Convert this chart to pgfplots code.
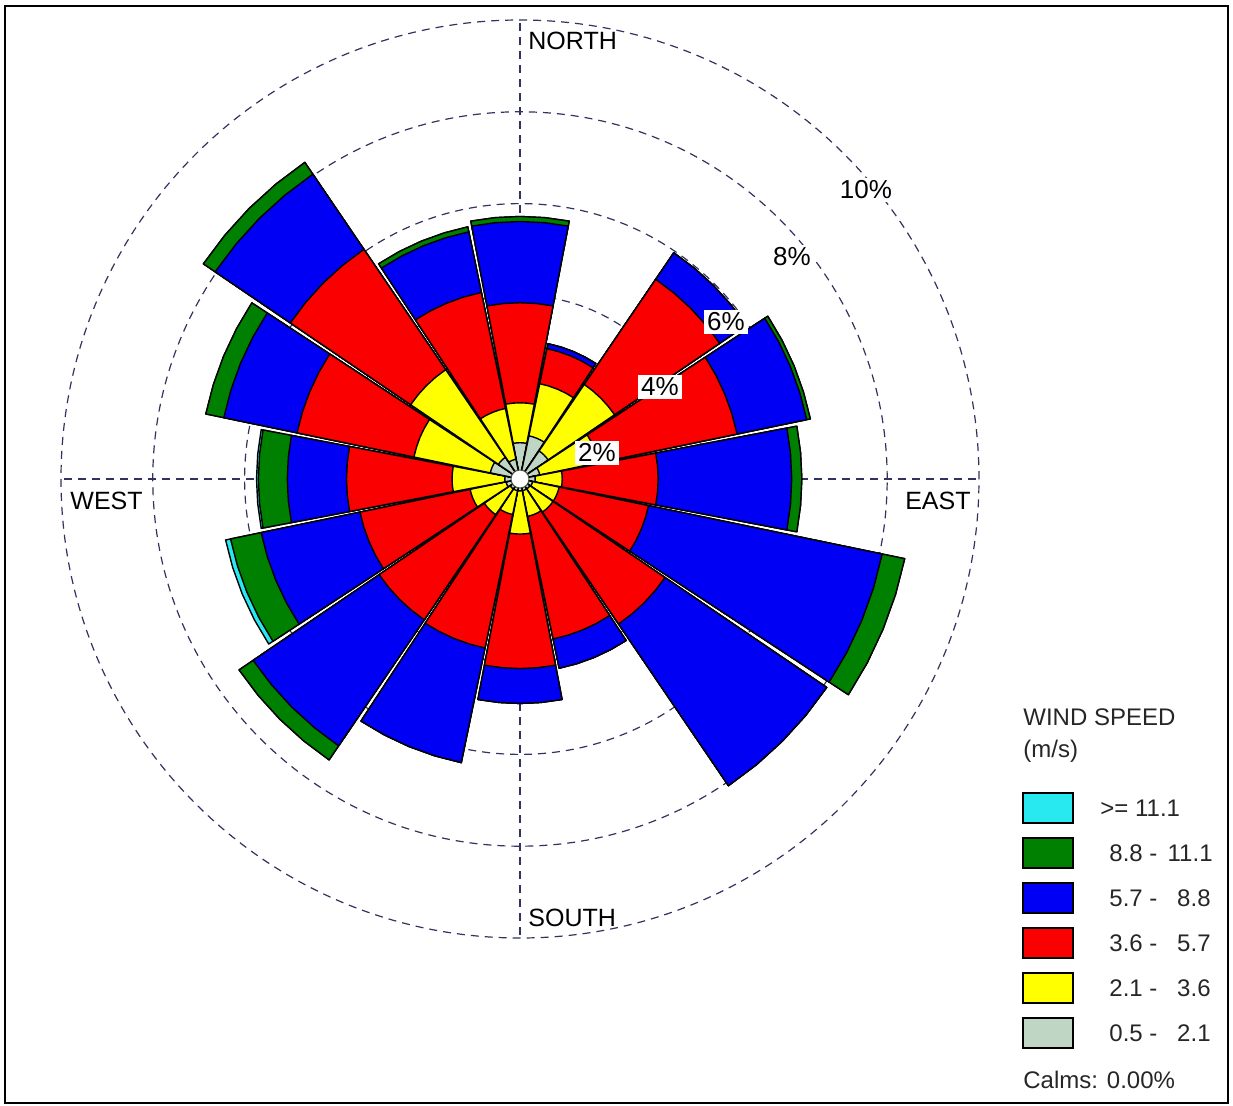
\documentclass[border=0pt]{standalone}
\usepackage{fontspec}
\setmainfont{Liberation Sans}
\usepackage{pgfplots}
\pgfplotsset{compat=1.18}
\usepackage{pgfplotstable}
\usepgfplotslibrary{polar}

\definecolor{wcyan}{RGB}{40,232,240}
\definecolor{wgreen}{RGB}{0,128,0}
\definecolor{wblue}{RGB}{0,0,245}
\definecolor{wred}{RGB}{250,0,0}
\definecolor{wyellow}{RGB}{255,255,0}
\definecolor{wgray}{RGB}{192,214,196}
\definecolor{gridc}{RGB}{50,50,95}

% cumulative radius (%) of each speed class, by compass direction (deg)
\pgfplotstableread{
dir   gray yellow red  blue green cyan
0     0.79 1.66   3.84 5.61 5.72  5.72
22.5  0.96 2.12   2.90 3.01 3.01  3.01
45    0.74 2.49   5.26 5.96 5.96  5.96
67.5  0.44 1.75   4.83 6.38 6.46  6.46
90    0.33 0.92   3.01 5.92 6.14  6.14
112.5 0.28 0.87   2.86 8.06 8.56  8.56
135   0.26 0.87   3.82 8.08 8.08  8.08
157.5 0.26 0.83   3.56 4.21 4.21  4.21
180   0.26 1.20   4.13 4.89 4.89  4.89
202.5 0.26 0.79   3.76 6.31 6.31  6.31
225   0.26 0.94   3.71 7.03 7.40  7.40
247.5 0.31 1.11   3.56 5.76 6.44  6.55
270   0.33 1.48   3.78 5.07 5.70  5.74
292.5 0.66 2.36   4.96 6.59 6.99  6.99
315   0.57 2.88   6.05 8.03 8.34  8.34
337.5 0.44 1.57   4.15 5.50 5.61  5.61
}\windtab

\newcommand\fs[1]{\fontsize{#1}{#1}\selectfont}
\tikzset{px/.style={x=0.5pt,y=-0.5pt}}

\begin{document}
\begin{tikzpicture}
\path[use as bounding box] (0pt,0pt) rectangle (616.5pt,-553pt);
\begin{polaraxis}[
  at={(260pt,-239.5pt)}, anchor=origin,
  width=459pt, height=459pt, scale only axis,
  xmin=0, xmax=360, ymin=0, ymax=10,
  xtick={0,90,180,270}, ytick={2,4,6,8},
  xticklabels={}, yticklabels={},
  major tick length=0pt,
  grid=major,
  grid style={gridc, dash pattern=on 4pt off 3pt, line width=0.6pt},
  x axis line style={gridc, dash pattern=on 4pt off 3pt, line width=0.6pt},
  y axis line style={draw=none},
]
\pgfplotsforeachungrouped \i in {0,...,15}{%
  \pgfplotstablegetelem{\i}{dir}\of\windtab
  \pgfmathsetmacro\ang{90-\pgfplotsretval}%
  \pgfmathsetmacro\aA{\ang-10.8}\pgfmathsetmacro\aB{\ang-5.4}%
  \pgfmathsetmacro\aC{\ang+5.4}\pgfmathsetmacro\aD{\ang+10.8}%
  \pgfplotsforeachungrouped \cls in {cyan,green,blue,red,yellow,gray}{%
    \pgfplotstablegetelem{\i}{\cls}\of\windtab
    \let\rr\pgfplotsretval
    \edef\tmp{\noexpand\addplot[fill=w\cls, draw=black, line width=0.7pt, line join=round]
      coordinates {(0,0) (\aA,\rr) (\aB,\rr) (\ang,\rr) (\aC,\rr) (\aD,\rr)} -- cycle;}%
    \tmp
  }%
}
\draw[black!70, fill=white, line width=0.5pt] (axis cs:0,0) circle[radius=4.5pt];
\end{polaraxis}

\begin{scope}[px]
% compass labels
\begin{scope}[every node/.style={inner sep=0pt, font=\fs{12.5}}]
\node[anchor=west] at (528,41) {NORTH};
\node[anchor=west] at (528,918) {SOUTH};
\node[anchor=west] at (70,501) {WEST};
\node[anchor=east] at (971,501) {EAST};
\end{scope}

% ring labels
\begin{scope}[every node/.style={fill=white, inner sep=1.5pt, font=\fs{13}}]
\node at (597,453) {2\%};
\node at (660,387) {4\%};
\node at (726,322) {6\%};
\node at (792,257) {8\%};
\node at (866,190) {10\%};
\end{scope}

% legend
\foreach \y/\c in {808/wcyan, 853/wgreen, 898/wblue, 943/wred, 988/wyellow, 1033/wgray}
  \draw[fill=\c, line width=0.6pt] (1023,\y-15) rectangle (1073,\y+15);
\begin{scope}[every node/.style={inner sep=0pt, font=\fs{12}, text=black!85}]
\node[anchor=west] at (1023,717) {WIND SPEED};
\node[anchor=west] at (1023,751) {(m/s)};
\node[anchor=west] at (1100,808) {>= 11.1};
\node[anchor=west] at (1109,853) {8.8 -};
\node[anchor=east] at (1213,853) {11.1};
\node[anchor=west] at (1109,898) {5.7 -};
\node[anchor=east] at (1211,898) {8.8};
\node[anchor=west] at (1109,943) {3.6 -};
\node[anchor=east] at (1211,943) {5.7};
\node[anchor=west] at (1109,988) {2.1 -};
\node[anchor=east] at (1211,988) {3.6};
\node[anchor=west] at (1109,1033) {0.5 -};
\node[anchor=east] at (1211,1033) {2.1};
\node[anchor=west] at (1023,1080) {Calms: 0.00\%};
\end{scope}

\draw[line width=1pt] (5,6) rectangle (1228,1103);
\end{scope}
\end{tikzpicture}
\end{document}
